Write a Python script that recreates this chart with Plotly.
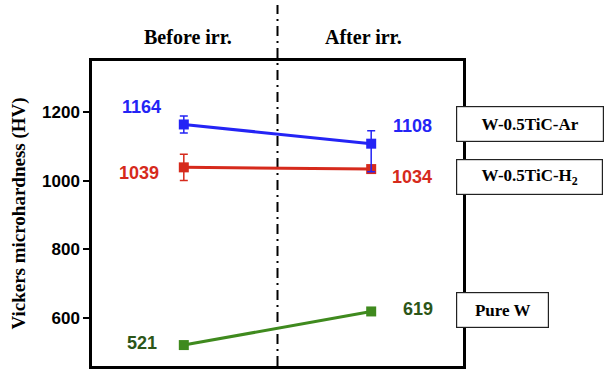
import plotly.graph_objects as go

# Hardness before / after irradiation
stages = [0, 1]  # 0 = before irr., 1 = after irr.
stage_labels = ["Before irr.", "After irr."]

pure_w = [521, 619]
tic_h2 = [1039, 1034]
tic_h2_err = [38, 0]
tic_ar = [1164, 1108]
tic_ar_err_plus = [25, 38]
tic_ar_err_minus = [25, 82]

series_names = ["Pure W", "W-0.5TiC-H<sub>2</sub>", "W-0.5TiC-Ar"]

BLUE = "#2424f5"
RED = "#d62a1c"
GREEN = "#3f8a1e"
GREEN_TXT = "#2c5618"

serif = "Liberation Serif, Times New Roman, serif"
sans = "Liberation Sans, Arial, sans-serif"

fig = go.Figure()

fig.add_trace(go.Scatter(
    x=stages, y=pure_w, mode="lines+markers",
    line=dict(color=GREEN, width=3),
    marker=dict(symbol="square", size=10, color=GREEN),
))
fig.add_trace(go.Scatter(
    x=stages, y=tic_h2, mode="lines+markers",
    line=dict(color=RED, width=3),
    marker=dict(symbol="square", size=10, color=RED),
    error_y=dict(type="data", array=tic_h2_err, color=RED, thickness=1.5, width=4),
))
fig.add_trace(go.Scatter(
    x=stages, y=tic_ar, mode="lines+markers",
    line=dict(color=BLUE, width=3),
    marker=dict(symbol="square", size=10, color=BLUE),
    error_y=dict(type="data", symmetric=False, array=tic_ar_err_plus,
                 arrayminus=tic_ar_err_minus, color=BLUE, thickness=1.5, width=4),
))

# value labels beside each point
def value_label(x, y, text_y, color):
    fig.add_annotation(x=x, y=text_y, xref="x", yref="y", text=f"<b>{y}</b>",
                       xanchor="center", yanchor="middle",
                       showarrow=False, font=dict(family=sans, size=18, color=color))

value_label(stages[0] - 0.225, tic_ar[0], tic_ar[0] + 50, BLUE)
value_label(stages[1] + 0.22, tic_ar[1], tic_ar[1] + 51, BLUE)
value_label(stages[0] - 0.24, tic_h2[0], tic_h2[0] - 17, RED)
value_label(stages[1] + 0.22, tic_h2[1], tic_h2[1] - 23, RED)
value_label(stages[0] - 0.225, pure_w[0], pure_w[0] + 6, GREEN_TXT)
value_label(stages[1] + 0.25, pure_w[1], pure_w[1] + 7, GREEN_TXT)

# stage headers
for xp, lab in zip([0.2588, 0.7305], stage_labels):
    fig.add_annotation(x=xp, y=1.079, xref="paper", yref="paper", text=f"<b>{lab}</b>",
                       xanchor="center", yanchor="middle",
                       showarrow=False, font=dict(family=serif, size=20, color="black"))

# series name boxes at the right
boxes = [
    (series_names[2], 1.1806, 0.7934, 146),
    (series_names[1], 1.179, 0.6213, 145),
    (series_names[0], 1.1065, 0.182, 91),
]
for name, xp, yp, w in boxes:
    fig.add_annotation(x=xp, y=yp, xref="paper", yref="paper", text=f"<b>{name}</b>",
                       xanchor="center", yanchor="middle",
                       showarrow=False, width=w, height=34, borderpad=0,
                       bordercolor="#222", borderwidth=1.2, bgcolor="white",
                       font=dict(family=serif, size=17, color="black"))

# dash-dot divider between the two stages
fig.add_shape(type="line", xref="x", yref="paper", x0=0.5, x1=0.5, y0=0, y1=1.184,
              line=dict(color="black", width=2, dash="10px,5px,2px,5px"), layer="below")

fig.update_xaxes(range=[-0.49, 1.49], showticklabels=False, ticks="", showgrid=False,
                 zeroline=False, showline=True, linecolor="black", linewidth=2.5, mirror=True)
fig.update_yaxes(range=[460, 1349], tickvals=[600, 800, 1000, 1200], ticks="outside",
                 ticklen=6, tickwidth=2, tickcolor="black", showgrid=False, zeroline=False,
                 showline=True, linecolor="black", linewidth=2.5, mirror=True,
                 tickfont=dict(family=sans, size=17, color="black", weight="bold"),
                 title=dict(text="<b>Vickers microhardness (HV)</b>", standoff=12,
                            font=dict(family=serif, size=19, color="black")))

fig.update_layout(
    width=609, height=372, showlegend=False,
    margin=dict(l=92, r=146, t=61, b=6),
    paper_bgcolor="white", plot_bgcolor="white",
)

fig.write_html("out.html")
